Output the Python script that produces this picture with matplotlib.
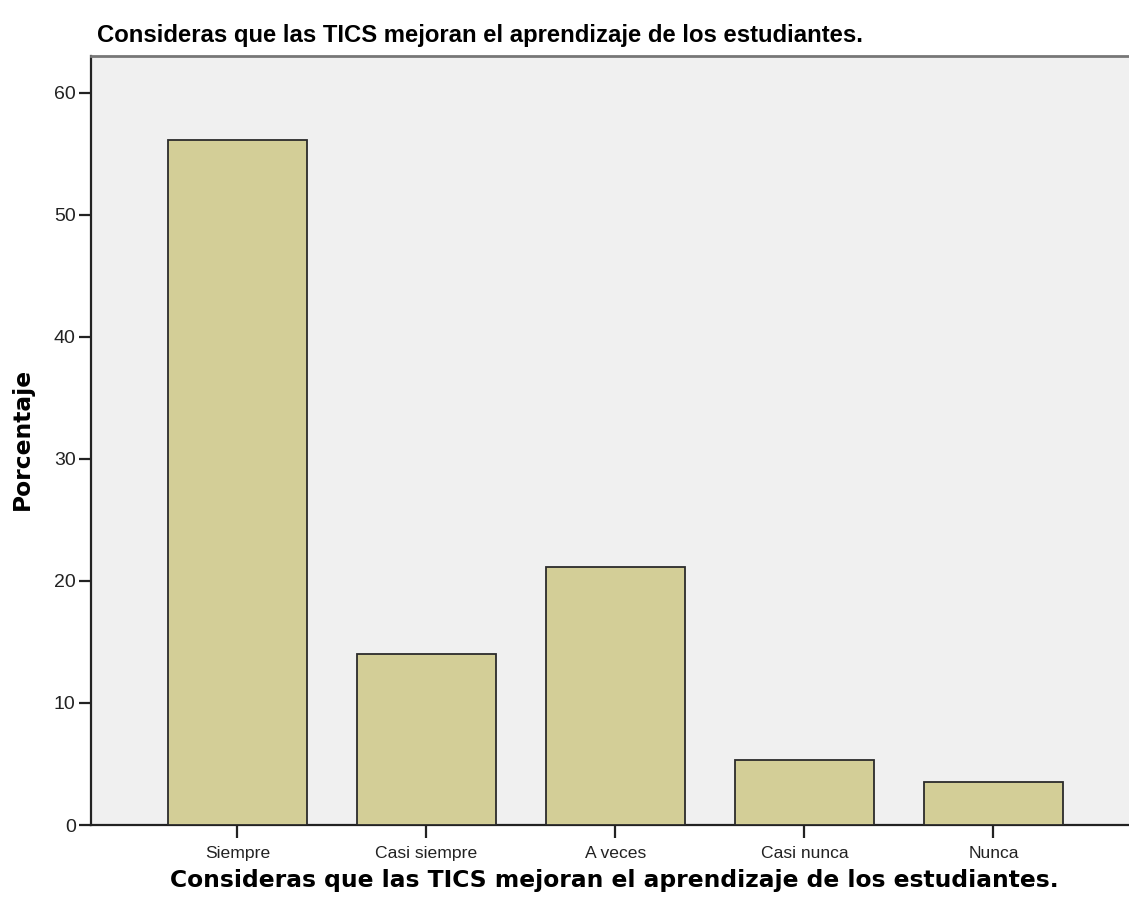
import matplotlib
matplotlib.use("Agg")
import matplotlib.pyplot as plt

categories = ["Siempre", "Casi siempre", "A veces", "Casi nunca", "Nunca"]
porcentajes = [56.1, 14.0, 21.1, 5.3, 3.5]
y_ticks = [0, 10, 20, 30, 40, 50, 60]

title_text = "Consideras que las TICS mejoran el aprendizaje de los estudiantes."

fig = plt.figure(figsize=(11.29, 9.09), dpi=100)
ax = fig.add_axes([0.0806, 0.0924, 0.9194, 0.846])
ax.set_facecolor("#F0F0F0")

x = list(range(len(categories)))
ax.bar(x, porcentajes, width=0.74, color="#D3CE97", edgecolor="#2b2b2b", linewidth=1.3, zorder=3)

ax.set_xlim(-0.775, 4.717)
ax.set_ylim(0, 63.0)
ax.set_yticks(y_ticks)
ax.set_xticks(x)
ax.set_xticklabels(categories, fontsize=12.6, family="Liberation Sans", color="#222222")
ax.set_yticklabels([str(v) for v in y_ticks], fontsize=14, family="Liberation Sans", color="#222222")
ax.tick_params(axis="both", direction="out", length=9, width=1.6, color="#222222")
ax.tick_params(axis="x", pad=6)
ax.tick_params(axis="y", pad=2)

ax.spines["right"].set_visible(False)
ax.spines["left"].set_linewidth(1.6)
ax.spines["bottom"].set_linewidth(1.6)
ax.spines["top"].set_linewidth(2.0)
ax.spines["top"].set_color("#777777")
ax.spines["left"].set_color("#222222")
ax.spines["bottom"].set_color("#222222")

fig.text(97 / 1129, 1 - 42 / 909, title_text, fontsize=17.2, fontweight="bold",
         family="Liberation Sans", ha="left", va="baseline")
fig.text(614 / 1129, 1 - 880 / 909, title_text, fontsize=16.8, fontweight="bold",
         family="DejaVu Sans", ha="center", va="center")
fig.text(22 / 1129, 1 - 439 / 909, "Porcentaje", fontsize=16.8, fontweight="bold",
         family="DejaVu Sans", ha="center", va="center", rotation=90)

fig.savefig("out.png", dpi=100, facecolor="white")
